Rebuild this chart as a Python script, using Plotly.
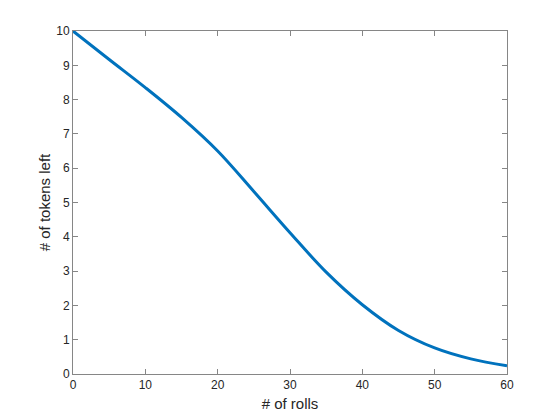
import plotly.graph_objects as go

rolls = [0, 5, 10, 15, 20, 25, 30, 35, 40, 45, 50, 55, 60]
tokens_left = [10, 9.17, 8.35, 7.48, 6.5, 5.32, 4.12, 2.97, 2.02, 1.27, 0.76, 0.44, 0.24]

x_ticks = [0, 10, 20, 30, 40, 50, 60]
y_ticks = [0, 1, 2, 3, 4, 5, 6, 7, 8, 9, 10]

axis_color = "#868686"
text_color = "#262626"
font_family = "Liberation Sans, Arial, Helvetica, sans-serif"

fig = go.Figure()
fig.add_trace(go.Scatter(
    x=rolls, y=tokens_left, mode="lines",
    line=dict(color="#0072BD", width=3, shape="spline", smoothing=1.0),
    showlegend=False, hoverinfo="skip",
))

common = dict(
    showline=True, linecolor=axis_color, linewidth=1, mirror="ticks",
    ticks="inside", ticklen=5, tickwidth=1, tickcolor=axis_color,
    showgrid=False, zeroline=False,
    tickfont=dict(family=font_family, size=12, color=text_color),
)

fig.update_layout(
    width=560, height=420,
    margin=dict(l=65, r=61, t=23, b=54),
    paper_bgcolor="white", plot_bgcolor="white",
    font=dict(family=font_family, color=text_color),
    xaxis=dict(range=[0, 60], tickvals=x_ticks,
               title=dict(text="# of rolls", font=dict(size=15, family=font_family, color=text_color), standoff=7),
               **common),
    yaxis=dict(range=[0, 10], tickvals=y_ticks,
               title=dict(text="# of tokens left", font=dict(size=15, family=font_family, color=text_color), standoff=1),
               **common),
)

fig.write_html("out.html")
